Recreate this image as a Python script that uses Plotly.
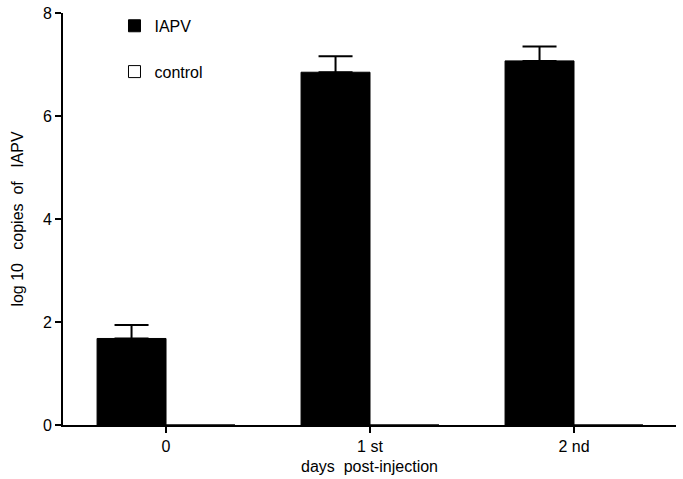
import plotly.graph_objects as go

categories = ["0", "1 st", "2 nd"]
iapv_values = [1.68, 6.85, 7.07]
iapv_errors = [0.26, 0.31, 0.28]
control_values = [0, 0, 0]
y_ticks = [0, 2, 4, 6, 8]

font = dict(family="Liberation Sans, Arial, sans-serif", size=16, color="black")
sp = "\u00a0"

fig = go.Figure()
fig.add_trace(go.Bar(
    x=categories, y=iapv_values, name="IAPV", legendgroup="a",
    marker=dict(color="black", line=dict(color="black", width=1)),
    error_y=dict(type="data", array=iapv_errors, arrayminus=[0, 0, 0], symmetric=False,
                 color="black", thickness=2, width=17),
))
fig.add_trace(go.Bar(
    x=categories, y=control_values, name="control", legendgroup="b",
    marker=dict(color="white", line=dict(color="black", width=1)),
))

fig.update_layout(
    width=683, height=479,
    margin=dict(l=63, r=7, t=13, b=54, autoexpand=False),
    paper_bgcolor="white", plot_bgcolor="white",
    font=font,
    barmode="group", bargap=0.324, bargroupgap=0,
    showlegend=True,
    legend=dict(x=0.084, y=1.01, xanchor="left", yanchor="top",
                tracegroupgap=22, font=dict(size=16), bgcolor="rgba(0,0,0,0)"),
    xaxis=dict(
        range=[-0.505, 2.5], showline=True, linecolor="black", linewidth=2,
        ticks="outside", ticklen=6, tickwidth=1.5, tickcolor="black",
        showgrid=False, zeroline=False, automargin=False,
        tickfont=dict(size=16),
        title=dict(text=f"days {sp}post-injection", standoff=7, font=dict(size=16)),
    ),
    yaxis=dict(
        range=[0, 8], tickvals=y_ticks, showline=True, linecolor="black", linewidth=2,
        ticks="outside", ticklen=6, tickwidth=1.5, tickcolor="black",
        showgrid=False, zeroline=False, automargin=False,
        tickfont=dict(size=16),
        title=dict(text=f"log 10 {sp}{sp}copies {sp}of {sp}{sp}IAPV", standoff=15, font=dict(size=16)),
    ),
)

fig.write_html(
    "out.html",
    config={"displayModeBar": False},
    post_script="document.body.style.margin='0';document.body.style.overflow='hidden';",
)
